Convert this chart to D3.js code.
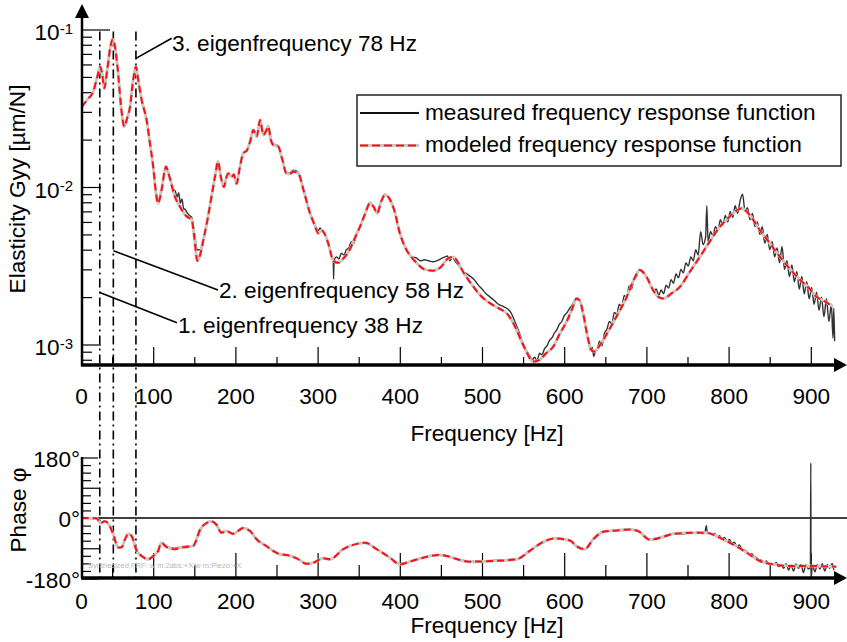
<!DOCTYPE html>
<html><head><meta charset="utf-8">
<script src="https://cdn.jsdelivr.net/npm/d3@7"></script>
<style>
body{margin:0;background:#fff}
svg text{font-family:"Liberation Sans",Arial,Helvetica,sans-serif;fill:#000}
</style>
</head><body>
<svg id="c" width="847" height="642"></svg>
<script>
// ---------- DATA ----------
const xMajorTicks = [0,100,200,300,400,500,600,700,800,900];
const xMinorTicks = [50,150,250,350,450,550,650,750,850];
const magMajorTicks = [1e-1,1e-2,1e-3];
const magMajorExp = ["-1","-2","-3"];
const phaseMajorTicks = [180,0,-180];
const phaseMinorTicks = [-157.5,-135,-112.5,-90,-67.5,-45,-22.5,22.5,45,67.5,90,112.5,135,157.5];
const phaseLongTicks = [90,-90];
const eigenFreqs = [35,51.5,79];          // positions of the dash-dot markers as drawn
const eigenLabels = ["1. eigenfrequency 38 Hz","2. eigenfrequency 58 Hz","3. eigenfrequency 78 Hz"];
const eigenAnchorMag = [0.00214,0.00394,0.0656];
const legendLabels = ["measured frequency response function","modeled frequency response function"];
const xTitle = "Frequency [Hz]";
const magTitle = "Elasticity Gyy [µm/N]";
const phaseTitle = "Phase φ";
const noteText = "Synthesized FRF: w m:2abs:+X/w m:Piezo:+X";

// modeled magnitude [Hz, µm/N]
const modelMag = [[13,0.0323],[20,0.036],[27,0.0403],[32,0.050],[35.5,0.058],[38,0.052],[40.5,0.0424],[44,0.055],[48,0.078],[50.7,0.0867],[53.5,0.0778],[57,0.055],[61,0.032],[64.9,0.0242],[68,0.027],[71.8,0.0323],[75,0.045],[79,0.058],[82,0.047],[86,0.0356],[92,0.0266],[96,0.019],[100,0.01346],[103,0.0095],[106,0.00787],[110,0.0095],[115.6,0.01346],[118,0.0125],[121,0.0110],[126,0.0088],[132.6,0.0075],[140.7,0.0065],[146.8,0.0062],[150,0.0048],[153.7,0.0034],[157,0.0037],[161,0.0046],[166,0.0062],[171,0.0087],[175,0.0115],[179,0.0145],[182,0.0118],[186,0.0100],[189,0.0115],[191.4,0.0122],[195.5,0.0116],[198,0.012],[201.5,0.0105],[205,0.013],[209.6,0.0164],[213.7,0.017],[218,0.0195],[221.8,0.023],[226,0.0209],[230,0.0266],[234,0.0214],[237,0.0225],[240,0.0242],[243,0.020],[246,0.0185],[252,0.0181],[257,0.0150],[262,0.0122],[266,0.0121],[270.5,0.0125],[276.5,0.0122],[283,0.0095],[290.8,0.0068],[296,0.0058],[301,0.00508],[305,0.0053],[309,0.0050],[314,0.0042],[319,0.0034],[325,0.0033],[331,0.0035],[339,0.0040],[345,0.0047],[351.6,0.0056],[358,0.0068],[363.7,0.0079],[368,0.0075],[372.6,0.0068],[377,0.0080],[382,0.0089],[387,0.0085],[393,0.0072],[400,0.0051],[408,0.0040],[418,0.0034],[430,0.0030],[440,0.00294],[450,0.0031],[458,0.0035],[465,0.0036],[471,0.0033],[477,0.0029],[489.5,0.00233],[500,0.0020],[509.7,0.00183],[520,0.0017],[530,0.00158],[537,0.0014],[542,0.00124],[548,0.00105],[554,0.00090],[562,0.00078],[570,0.00080],[578,0.00088],[586.7,0.00097],[595,0.00118],[603,0.0014],[610,0.0017],[615,0.00196],[619,0.0019],[623,0.00158],[628,0.00115],[632,0.00095],[636,0.00090],[645,0.00102],[655,0.00125],[665,0.00155],[676,0.0020],[685,0.0026],[692,0.00297],[700,0.0027],[708,0.00222],[715,0.0020],[721,0.00196],[730,0.0021],[741,0.00233],[753,0.0029],[765,0.0036],[777,0.0045],[789.5,0.0056],[800,0.0064],[810,0.0071],[816,0.00733],[825,0.0067],[838,0.00533],[850,0.0044],[862.6,0.0036],[875,0.0030],[887,0.00257],[897,0.0023],[907,0.00201],[917,0.00188],[927,0.00174]];

// measured magnitude [Hz, µm/N]
const measMag = [[13,0.0323],[20,0.036],[27,0.0403],[32,0.050],[35.5,0.058],[38,0.052],[40.5,0.0424],[44,0.055],[48,0.078],[50.7,0.0875],[53.5,0.0778],[57,0.055],[61,0.032],[64.9,0.0245],[68,0.027],[71.8,0.0323],[75,0.045],[79,0.058],[82,0.047],[86,0.0356],[92,0.0266],[96,0.019],[100,0.0135],[103,0.0096],[106,0.0080],[110,0.0096],[115.6,0.0136],[118,0.0127],[121,0.0112],[124,0.0098],[127,0.0094],[129,0.0086],[131,0.0092],[133,0.0079],[135,0.0084],[137,0.0073],[139,0.0072],[141,0.0069],[144,0.0066],[147,0.0064],[150,0.0052],[153.7,0.0040],[157,0.0040],[161,0.0047],[166,0.0062],[171,0.0087],[175,0.0115],[179,0.0146],[182,0.0118],[186,0.0100],[189,0.0116],[191.4,0.0123],[195.5,0.0116],[198,0.0121],[201.5,0.0106],[205,0.0130],[209.6,0.0165],[213.7,0.0172],[218,0.0197],[221.8,0.0232],[226,0.0211],[230,0.0268],[234,0.0216],[237,0.0227],[240,0.0245],[243,0.0205],[246,0.0188],[252,0.0183],[257,0.0152],[262,0.0124],[266,0.0123],[270.5,0.0128],[276.5,0.0124],[283,0.0096],[290.8,0.0069],[296,0.0059],[301,0.0053],[303,0.0055],[306,0.0052],[309,0.0050],[314,0.0042],[317,0.0036],[319,0.0035],[319.5,0.0026],[320,0.0034],[323,0.0036],[326,0.0035],[329,0.0038],[332,0.0037],[335,0.0040],[338,0.0041],[341,0.0045],[344,0.0044],[347,0.0049],[351,0.0055],[355,0.0062],[358,0.0068],[363.7,0.0080],[368,0.0075],[372.6,0.0069],[377,0.0081],[382,0.0090],[387,0.0085],[393,0.0073],[400,0.0052],[405,0.0043],[410,0.0038],[415,0.0036],[420,0.00355],[425,0.0034],[430,0.00345],[435,0.0034],[440,0.00335],[445,0.0034],[450,0.0035],[455,0.0036],[458,0.00365],[461,0.0034],[464,0.0036],[467,0.0034],[471,0.0032],[477,0.0029],[482,0.0028],[486,0.0027],[490,0.0026],[495,0.0024],[500,0.00225],[505,0.0021],[510,0.0020],[515,0.0019],[520,0.0018],[525,0.00175],[530,0.0017],[535,0.0016],[540,0.0014],[545,0.0012],[550,0.00102],[555,0.00090],[558,0.00085],[561,0.00080],[564,0.00083],[567,0.00079],[570,0.00088],[573,0.00086],[576,0.00094],[579,0.00098],[582,0.00106],[585,0.00110],[588,0.00118],[591,0.00124],[594,0.00134],[597,0.00140],[600,0.00152],[603,0.00158],[606,0.00168],[609,0.00176],[612,0.00188],[615,0.00198],[619,0.00190],[623,0.00160],[626,0.00130],[629,0.00108],[632,0.00092],[634,0.00096],[636,0.00084],[638,0.00090],[640,0.00092],[643,0.00105],[646,0.00098],[649,0.00118],[652,0.00125],[655,0.00140],[658,0.00135],[661,0.00160],[664,0.00155],[667,0.00180],[670,0.00172],[673,0.00205],[676,0.00198],[679,0.00235],[682,0.00225],[685,0.00262],[688,0.00270],[691,0.00300],[694,0.00290],[697,0.00285],[700,0.00268],[703,0.00250],[706,0.00235],[709,0.00218],[712,0.00225],[715,0.00205],[718,0.00222],[721,0.00210],[724,0.00238],[727,0.00228],[730,0.00258],[733,0.00245],[736,0.00280],[739,0.00265],[742,0.00300],[745,0.00285],[748,0.00330],[751,0.00315],[754,0.00360],[757,0.00340],[760,0.00400],[763,0.00370],[766,0.00520],[769,0.00430],[772,0.00480],[773.5,0.0076],[775,0.00450],[778,0.00520],[781,0.00490],[784,0.00560],[787,0.00530],[790,0.00620],[793,0.00570],[796,0.00660],[799,0.00600],[802,0.00700],[805,0.00640],[808,0.00760],[811,0.00680],[814,0.00820],[817,0.0090],[820,0.00700],[823,0.00740],[826,0.00620],[829,0.00680],[832,0.00560],[835,0.00600],[838,0.00500],[841,0.00560],[844,0.00440],[847,0.00500],[850,0.00400],[853,0.00450],[856,0.00360],[859,0.00410],[862,0.00330],[865,0.00420],[868,0.00300],[871,0.00340],[874,0.00270],[877,0.00320],[880,0.00250],[883,0.00290],[886,0.00225],[889,0.00270],[892,0.00210],[895,0.00250],[898,0.00195],[901,0.00230],[904,0.00180],[907,0.00215],[910,0.00165],[913,0.00200],[916,0.00150],[919,0.00195],[922,0.00140],[925,0.00180],[927,0.00110],[928,0.00170],[929,0.00105]];

// modeled phase [Hz, deg]
const modelPhase = [[13,0],[31,-1],[36,-15],[41,-10],[47.4,-25],[51.5,-49],[57.5,-88],[61.6,-87],[66,-62],[69.7,-47],[73.8,-54],[80,-98],[86,-113],[94,-123],[100,-113],[106,-98],[110,-74],[116,-86],[126.5,-93],[132.6,-88],[140.7,-86],[148.8,-83],[151,-74],[157,-35],[165,-15],[171,-10],[177,-20],[183,-44],[189,-39],[197,-47],[209.6,-30],[217.8,-39],[226,-64],[238,-84],[246,-98],[254,-108],[264,-111],[274.6,-120],[286.7,-136],[294.8,-133],[307,-120],[315,-123],[331,-93],[347.6,-77],[357.7,-74],[372,-93],[388,-118],[400,-138],[412,-130],[428.6,-118],[447,-110],[457,-113],[469,-122],[485,-130],[509.7,-128],[542,-123],[558,-98],[574.6,-71],[588.8,-61],[607,-67],[615,-84],[625,-93],[635,-64],[647.6,-41],[664,-37],[680,-34],[690,-39],[704,-64],[716.5,-59],[733,-47],[757,-44],[773,-44],[789.5,-59],[805.7,-79],[822,-103],[838,-128],[854.6,-138],[879,-143],[903,-143],[931,-145]];

// measured phase [Hz, deg]
const measPhase = [[13,0],[31,-1],[36,-15],[41,-10],[47.4,-25],[51.5,-49],[57.5,-88],[61.6,-87],[66,-62],[69.7,-47],[73.8,-54],[80,-98],[86,-113],[94,-122],[100,-113],[106,-98],[110,-74],[116,-84],[126.5,-90],[132.6,-86],[140.7,-84],[148.8,-82],[151,-74],[157,-35],[165,-15],[171,-10],[177,-20],[183,-44],[189,-39],[197,-47],[209.6,-30],[217.8,-39],[226,-64],[238,-84],[246,-98],[254,-108],[264,-111],[274.6,-120],[286.7,-136],[294.8,-133],[307,-120],[315,-122],[331,-93],[347.6,-77],[357.7,-74],[372,-93],[388,-118],[400,-136],[412,-129],[428.6,-117],[447,-109],[457,-112],[469,-121],[485,-129],[509.7,-127],[530,-124],[542,-122],[558,-97],[574.6,-70],[588.8,-61],[600,-63],[607,-66],[615,-83],[625,-92],[635,-63],[647.6,-40],[656,-38],[664,-36],[672,-37],[680,-34],[690,-38],[704,-63],[716.5,-58],[733,-46],[740,-45],[745,-48],[750,-43],[757,-45],[760,-44],[764,-42],[768,-46],[771,-43],[773,-23],[774,-45],[777,-47],[780,-50],[783,-46],[786,-55],[789,-53],[792,-62],[795,-58],[798,-68],[801,-64],[804,-75],[807,-72],[810,-84],[813,-80],[816,-92],[819,-95],[822,-100],[825,-108],[828,-106],[831,-115],[834,-118],[837,-124],[840,-126],[843,-132],[846,-128],[849,-138],[852,-135],[855,-140],[858,-132],[861,-145],[864,-138],[867,-150],[870,-136],[873,-155],[876,-140],[879,-158],[882,-137],[885,-150],[888,-138],[891,-162],[894,-140],[897,-152],[899.5,-145],[900,164],[900.3,-178],[902,-140],[905,-160],[908,-138],[911,-152],[914,-136],[917,-158],[920,-139],[923,-150],[926,-135],[928,-155]];

// ---------- LAYOUT ----------
const svg = d3.select("#c");
const FONT = 22.6;
const axX = 82, magBase = 365, phBase = 578, rightEnd = 847;
const x = d3.scaleLinear().domain([0,900]).range([71,810.8]);
const yM = d3.scaleLog().domain([1e-1,1e-3]).range([29.5,344.5]);
const yP = d3.scaleLinear().domain([-180,180]).range([578.5,457.5]);

const defs = svg.append("defs");
defs.append("clipPath").attr("id","clipM").append("rect").attr("x",axX).attr("y",0).attr("width",rightEnd-axX).attr("height",magBase-1);
defs.append("clipPath").attr("id","clipP").append("rect").attr("x",axX).attr("y",440).attr("width",rightEnd-axX).attr("height",phBase-440);

function styleAxis(g){
  g.attr("font-family",null).attr("font-size",null);
  g.selectAll(".tick line").attr("stroke","#000").attr("stroke-width",1.2);
  g.selectAll(".tick text").attr("font-size",FONT);
}

// ---------- MAGNITUDE PANEL ----------
const gMx = svg.append("g").attr("transform",`translate(0,${magBase})`)
  .call(d3.axisBottom(x).tickValues(xMajorTicks).tickSizeInner(-18).tickSizeOuter(0).tickPadding(23).tickFormat(d3.format("d")));
gMx.select(".domain").remove(); styleAxis(gMx);
gMx.selectAll(".tick").filter(d=>d===0).select("line").remove();
gMx.selectAll(".tick").filter(d=>d===0).select("text").attr("x",axX - x(0) - 1);
const gMxm = svg.append("g").attr("transform",`translate(0,${magBase})`)
  .call(d3.axisBottom(x).tickValues(xMinorTicks).tickSizeInner(-8).tickSizeOuter(0).tickFormat(""));
gMxm.select(".domain").remove(); styleAxis(gMxm);

const minorMag = [];
[1e-3,1e-2].forEach(dec=>{for(let k=2;k<=9;k++) minorMag.push(dec*k);});
minorMag.push(8e-4,9e-4);
const gMym = svg.append("g").attr("transform",`translate(${axX},0)`)
  .call(d3.axisLeft(yM).tickValues(minorMag).tickSizeInner(-10).tickSizeOuter(0).tickFormat(""));
gMym.select(".domain").remove(); styleAxis(gMym);
const gMy = svg.append("g").attr("transform",`translate(${axX},0)`)
  .call(d3.axisLeft(yM).tickValues(magMajorTicks).tickSizeInner(-19).tickSizeOuter(0).tickPadding(9).tickFormat(()=>""));
gMy.select(".domain").remove(); styleAxis(gMy);
gMy.selectAll(".tick").filter(d=>d===1e-1).select("line").attr("x2",28);
gMy.selectAll(".tick text").each(function(d,i){
  const t = d3.select(this).attr("dy","0.45em");
  t.append("tspan").text("10");
  t.append("tspan").attr("dy","-0.42em").attr("font-size",15).text(magMajorExp[i]);
});

// eigenfrequency markers
svg.append("g").selectAll("line").data(eigenFreqs).join("line")
  .attr("x1",d=>x(d)).attr("x2",d=>x(d))
  .attr("y1",yM(0.1)+2).attr("y2",phBase)
  .attr("stroke","#000").attr("stroke-width",1.6).attr("stroke-dasharray","9,4,2,4");

// curves
const lineM = d3.line().x(d=>x(d[0])).y(d=>yM(d[1])).curve(d3.curveMonotoneX);
const gM = svg.append("g").attr("clip-path","url(#clipM)");
gM.append("path").attr("d",lineM(measMag)).attr("fill","none").attr("stroke","#333").attr("stroke-width",1.4);
gM.append("path").attr("d",lineM(modelMag)).attr("fill","none").attr("stroke","#c8c8c8").attr("stroke-width",3);
gM.append("path").attr("d",lineM(modelMag)).attr("fill","none").attr("stroke","#ff1010").attr("stroke-width",2).attr("stroke-dasharray","7,4");

// axes lines + arrows
svg.append("line").attr("x1",axX).attr("x2",axX).attr("y1",magBase+1).attr("y2",14).attr("stroke","#000").attr("stroke-width",2.5);
svg.append("path").attr("d",`M${axX},4 L${axX-7},18 L${axX+7},18 Z`).attr("fill","#000");
svg.append("line").attr("x1",axX-1).attr("x2",rightEnd-10).attr("y1",magBase).attr("y2",magBase).attr("stroke","#000").attr("stroke-width",3.5);
svg.append("path").attr("d",`M${rightEnd},${magBase} L${rightEnd-13},${magBase-7} L${rightEnd-13},${magBase+7} Z`).attr("fill","#000");

// titles
svg.append("text").attr("x",487).attr("y",441).attr("text-anchor","middle").attr("font-size",FONT).text(xTitle);
svg.append("text").attr("transform","translate(25,189) rotate(-90)").attr("text-anchor","middle").attr("font-size",FONT).text(magTitle);

// annotations
const annText = [[178,333],[219,298],[172,50.5]];
const annEnd = [[177,322.7],[218,290],[171.7,38.3]];
eigenFreqs.forEach((f,i)=>{
  svg.append("line").attr("x1",x(f)).attr("y1",yM(eigenAnchorMag[i]))
    .attr("x2",annEnd[i][0]).attr("y2",annEnd[i][1]).attr("stroke","#000").attr("stroke-width",1.6);
  svg.append("text").attr("x",annText[i][0]).attr("y",annText[i][1]).attr("font-size",FONT).text(eigenLabels[i]);
});

// legend
const lg = svg.append("g");
lg.append("rect").attr("x",357).attr("y",95).attr("width",484).attr("height",71).attr("fill","#fff").attr("stroke","#222").attr("stroke-width",1.5);
lg.append("line").attr("x1",360).attr("x2",419).attr("y1",113).attr("y2",113).attr("stroke","#111").attr("stroke-width",1.8);
lg.append("line").attr("x1",360).attr("x2",419).attr("y1",145.5).attr("y2",145.5).attr("stroke","#c8c8c8").attr("stroke-width",3);
lg.append("line").attr("x1",360).attr("x2",419).attr("y1",145.5).attr("y2",145.5).attr("stroke","#ff1010").attr("stroke-width",2).attr("stroke-dasharray","8,4");
lg.append("text").attr("x",425).attr("y",120).attr("font-size",FONT).text(legendLabels[0]);
lg.append("text").attr("x",425).attr("y",152).attr("font-size",FONT).text(legendLabels[1]);

// ---------- PHASE PANEL ----------
const gPx = svg.append("g").attr("transform",`translate(0,${phBase})`)
  .call(d3.axisBottom(x).tickValues(xMajorTicks).tickSizeInner(-25).tickSizeOuter(0).tickPadding(15).tickFormat(d3.format("d")));
gPx.select(".domain").remove(); styleAxis(gPx);
gPx.selectAll(".tick").filter(d=>d===0).select("line").remove();
gPx.selectAll(".tick").filter(d=>d===0).select("text").attr("x",axX - x(0) - 1);
const gPxm = svg.append("g").attr("transform",`translate(0,${phBase})`)
  .call(d3.axisBottom(x).tickValues(xMinorTicks).tickSizeInner(-13).tickSizeOuter(0).tickFormat(""));
gPxm.select(".domain").remove(); styleAxis(gPxm);

const gPym = svg.append("g").attr("transform",`translate(${axX},0)`)
  .call(d3.axisLeft(yP).tickValues(phaseMinorTicks).tickSizeInner(-9).tickSizeOuter(0).tickFormat(""));
gPym.select(".domain").remove(); styleAxis(gPym);
gPym.selectAll(".tick").filter(d=>phaseLongTicks.includes(d)).select("line").attr("x2",18);
const gPy = svg.append("g").attr("transform",`translate(${axX},0)`)
  .call(d3.axisLeft(yP).tickValues(phaseMajorTicks).tickSizeInner(-16).tickSizeOuter(0).tickPadding(2).tickFormat(d=>d+"°"));
gPy.select(".domain").remove(); styleAxis(gPy);
gPy.selectAll(".tick text").attr("dy","0.38em");

svg.append("line").attr("x1",axX).attr("x2",rightEnd).attr("y1",yP(0)).attr("y2",yP(0)).attr("stroke","#000").attr("stroke-width",1.6);

svg.append("text").attr("x",88).attr("y",568).attr("font-size",7.5).style("fill","#b8b8b8").text(noteText);

const lineP = d3.line().x(d=>x(d[0])).y(d=>yP(d[1])).curve(d3.curveMonotoneX);
const gP = svg.append("g").attr("clip-path","url(#clipP)");
gP.append("path").attr("d",lineP(measPhase)).attr("fill","none").attr("stroke","#333").attr("stroke-width",1.4);
gP.append("path").attr("d",lineP(modelPhase)).attr("fill","none").attr("stroke","#c8c8c8").attr("stroke-width",3);
gP.append("path").attr("d",lineP(modelPhase)).attr("fill","none").attr("stroke","#ff1010").attr("stroke-width",2).attr("stroke-dasharray","7,4");

svg.append("line").attr("x1",axX).attr("x2",axX).attr("y1",457).attr("y2",phBase).attr("stroke","#000").attr("stroke-width",2.5);
svg.append("line").attr("x1",axX-1).attr("x2",rightEnd-10).attr("y1",phBase).attr("y2",phBase).attr("stroke","#000").attr("stroke-width",3.5);
svg.append("path").attr("d",`M${rightEnd},${phBase} L${rightEnd-13},${phBase-7} L${rightEnd-13},${phBase+7} Z`).attr("fill","#000");

svg.append("text").attr("x",487).attr("y",633).attr("text-anchor","middle").attr("font-size",FONT).text(xTitle);
svg.append("text").attr("transform","translate(26,510) rotate(-90)").attr("text-anchor","middle").attr("font-size",FONT).text(phaseTitle);
</script>
</body></html>
